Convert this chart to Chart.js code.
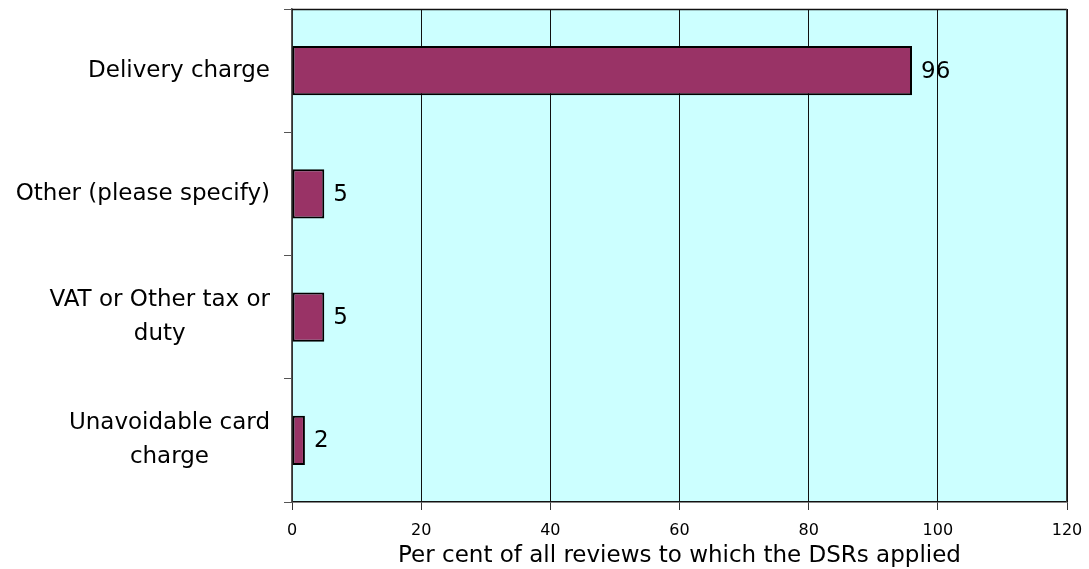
<!DOCTYPE html>
<html>
<head>
<meta charset="utf-8">
<script src="https://cdn.jsdelivr.net/npm/chart.js@4/dist/chart.umd.min.js"></script>
<style>
  body { margin: 0; background: #fff; }
  #wrap { width: 1089px; height: 569px; }
</style>
</head>
<body>
<div id="wrap"><canvas id="myChart" width="1089" height="569"></canvas></div>
<script>
// charge types, each label split into its drawn lines
const categories = [
    ['Delivery charge'],
    ['Other (please specify)'],
    ['VAT or Other tax or', 'duty'],
    ['Unavoidable card', 'charge']
]
const values = [96, 5, 5, 2]
const xTicks = [0, 20, 40, 60, 80, 100, 120]
const axisTitle = 'Per cent of all reviews to which the DSRs applied'

const FONT = '"DejaVu Sans", Verdana, sans-serif'

// cyan plot background and top border
const plotBox = {
    id: 'plotBox',
    beforeDraw(chart) {
        const { ctx, chartArea: a } = chart
        ctx.save()
        ctx.fillStyle = '#CCFFFF'
        ctx.fillRect(a.left, a.top, a.right - a.left, a.bottom - a.top)
        ctx.restore()
    },
    afterDraw(chart) {
        const { ctx, chartArea: a } = chart
        ctx.save()
        ctx.strokeStyle = '#111'
        ctx.lineWidth = 1.5
        ctx.beginPath()
        ctx.moveTo(a.left, a.top + 0.5)
        ctx.lineTo(a.right, a.top + 0.5)
        ctx.stroke()
        ctx.strokeStyle = '#444'
        ctx.lineWidth = 1
        ctx.beginPath()
        ctx.moveTo(a.right - 0.5, a.top)
        ctx.lineTo(a.right - 0.5, a.bottom)
        ctx.stroke()
        ctx.restore()
    }
}

// category names: right aligned block, lines centred inside it
const catLabels = {
    id: 'catLabels',
    afterDraw(chart) {
        const { ctx } = chart
        const yScale = chart.scales.y
        const right = yScale.right - 22
        const lineH = 34
        ctx.save()
        ctx.font = '23px ' + FONT
        ctx.fillStyle = '#000'
        ctx.textAlign = 'center'
        ctx.textBaseline = 'middle'
        categories.forEach((lines, i) => {
            const y = yScale.getPixelForValue(i)
            let w = 0
            for (let l of lines) w = Math.max(w, ctx.measureText(l).width)
            const cx = right - w / 2
            const y0 = y - (lines.length - 1) * lineH / 2
            lines.forEach((l, j) => ctx.fillText(l, cx, y0 + j * lineH))
        })
        ctx.restore()
    }
}

// value printed at the end of each bar
const valueLabels = {
    id: 'valueLabels',
    afterDatasetsDraw(chart) {
        const { ctx } = chart
        const meta = chart.getDatasetMeta(0)
        ctx.save()
        ctx.font = '23px ' + FONT
        ctx.fillStyle = '#000'
        ctx.textAlign = 'left'
        ctx.textBaseline = 'middle'
        meta.data.forEach((bar, i) => {
            ctx.fillText(String(values[i]), bar.x + 9, bar.y + 1)
        })
        ctx.restore()
    }
}

const ctx = document.getElementById('myChart')
const chart = new Chart(ctx, {
    type: 'bar',
    data: {
        labels: categories.map(l => l.join(' ')),
        datasets: [{
            data: values,
            backgroundColor: '#993366',
            borderColor: '#000',
            borderWidth: 2,
            borderSkipped: false,
            categoryPercentage: 1,
            barPercentage: 0.4
        }]
    },
    options: {
        indexAxis: 'y',
        responsive: false,
        animation: false,
        layout: { padding: { top: 9, right: 22, left: 0, bottom: 0 } },
        plugins: {
            legend: { display: false },
            tooltip: { enabled: false }
        },
        scales: {
            x: {
                type: 'linear',
                min: xTicks[0],
                max: xTicks[xTicks.length - 1],
                afterBuildTicks: (scale) => { scale.ticks = xTicks.map(v => ({ value: v })) },
                afterFit: (scale) => {
                    scale.height = 67
                    scale.paddingLeft = 0
                    scale.paddingRight = 0
                },
                ticks: {
                    color: '#000',
                    padding: 11,
                    maxRotation: 0,
                    font: { family: FONT, size: 16 }
                },
                grid: {
                    color: '#111',
                    lineWidth: 1,
                    tickLength: 8,
                    tickColor: '#333'
                },
                border: { color: '#111', width: 1.5 },
                title: {
                    display: true,
                    text: axisTitle,
                    color: '#000',
                    padding: { top: 0, bottom: 0 },
                    font: { family: FONT, size: 23, lineHeight: 1.1 }
                }
            },
            y: {
                offset: true,
                afterFit: (scale) => { scale.width = 292 },
                ticks: { display: false },
                grid: {
                    offset: true,
                    drawOnChartArea: false,
                    tickLength: 8,
                    color: '#555'
                },
                border: { color: '#555', width: 1.5 }
            }
        }
    },
    plugins: [plotBox, catLabels, valueLabels]
})
</script>
</body>
</html>
